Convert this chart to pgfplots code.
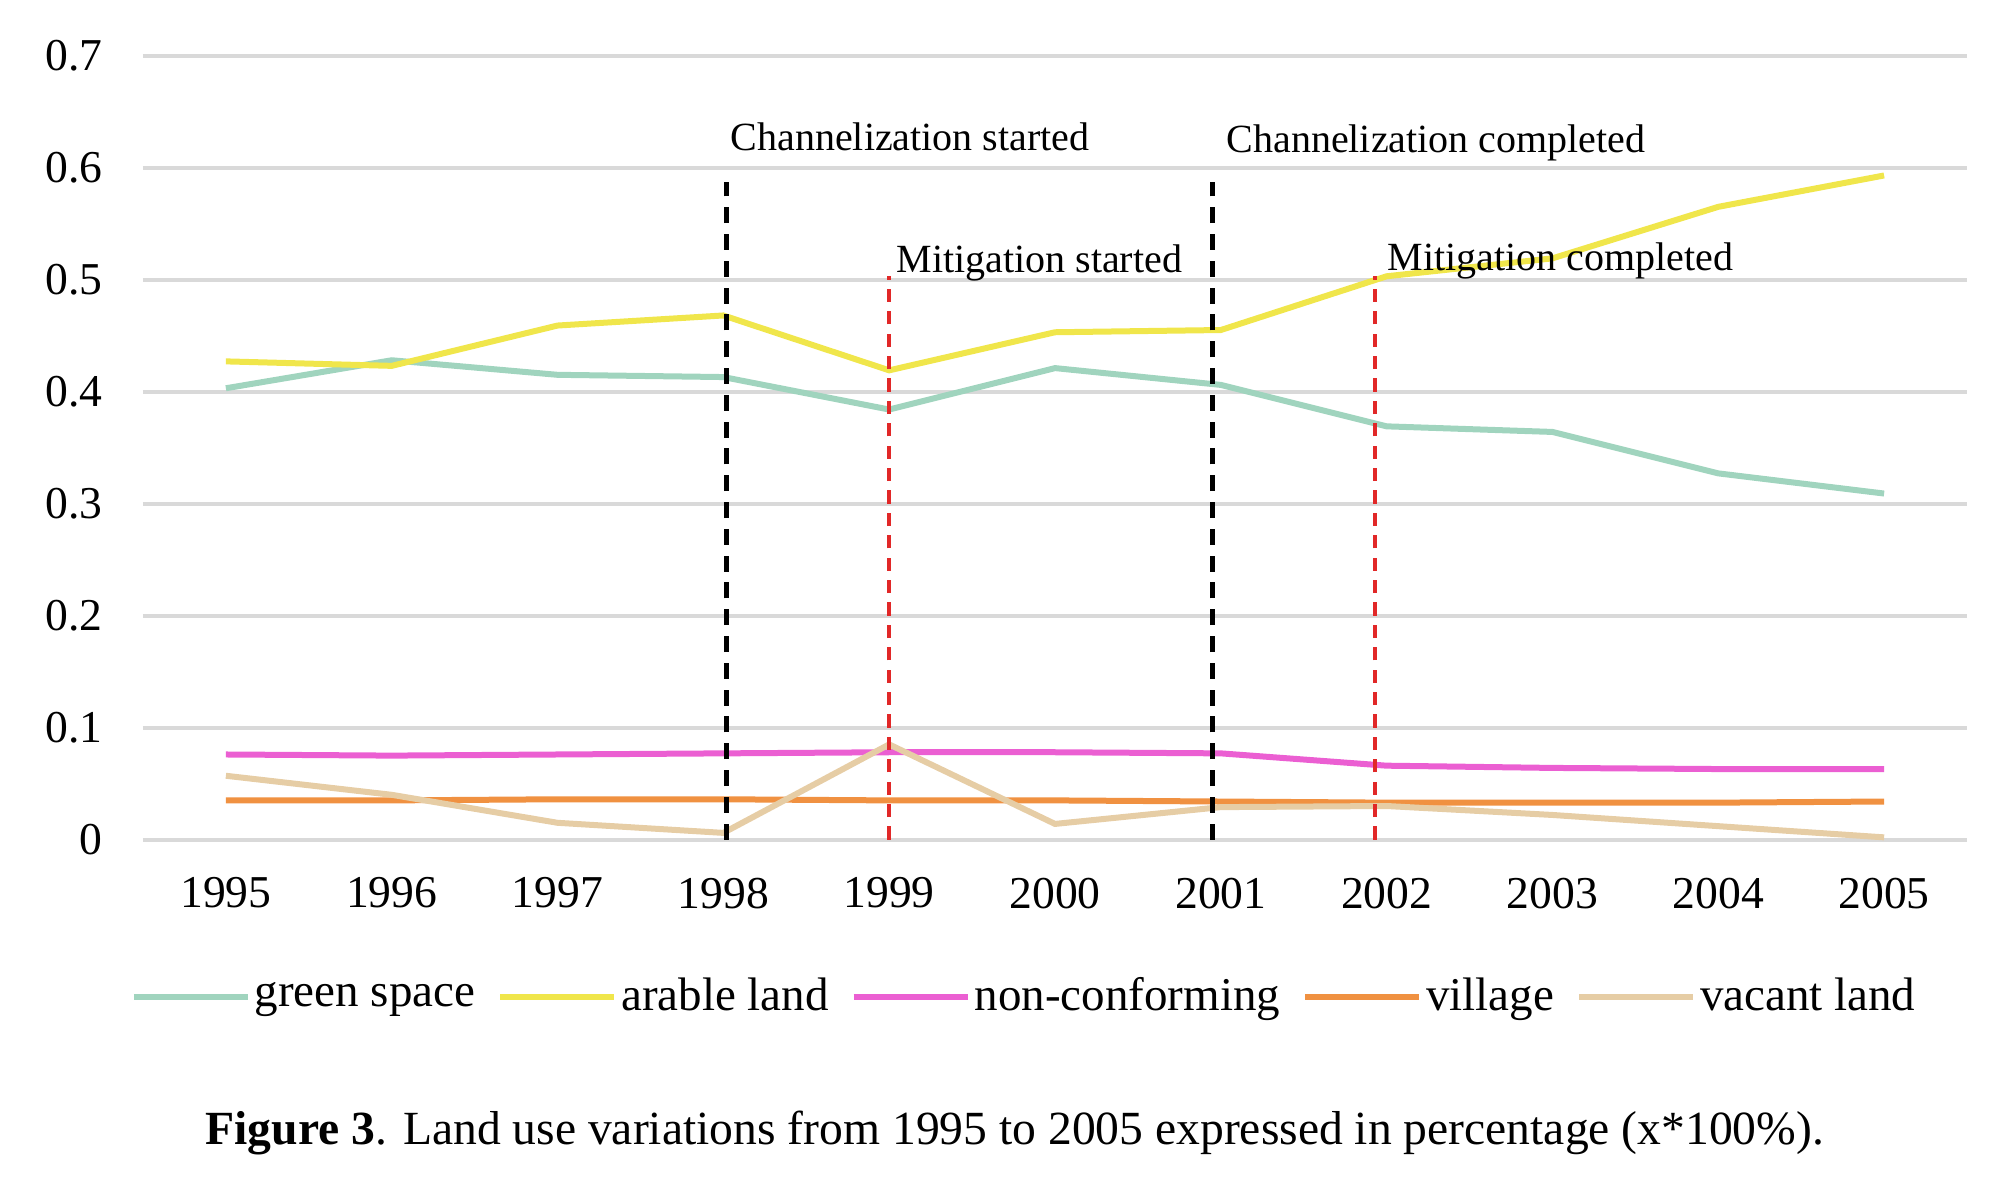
\documentclass[border=0pt]{standalone}
\usepackage{fontspec}
\setmainfont{Liberation Serif}
\usepackage{pgfplots}
\pgfplotsset{compat=1.18}

\definecolor{greensp}{RGB}{160,212,190}
\definecolor{arable}{RGB}{240,230,75}
\definecolor{noncon}{RGB}{235,95,210}
\definecolor{village}{RGB}{240,145,65}
\definecolor{vacant}{RGB}{230,205,165}
\definecolor{gridgray}{RGB}{217,217,217}
\definecolor{mitred}{RGB}{225,40,40}

\begin{document}
\begin{tikzpicture}
\path[use as bounding box] (-35.75bp,-86.1bp) rectangle (464.75bp,209.9bp);
\begin{axis}[
    scale only axis,
    width=456bp, height=196bp,
    at={(0,0)}, anchor=south west,
    xmin=1994.5, xmax=2005.5,
    ymin=0, ymax=0.7,
    clip=false,
    xtick={1995,1996,1997,1998,1999,2000,2001,2002,2003,2004,2005},
    ytick={0,0.1,0.2,0.3,0.4,0.5,0.6,0.7},
    /pgf/number format/assume math mode=true,
    x tick label style={/pgf/number format/1000 sep={}, yshift=-6.0bp},
    y tick label style={/pgf/number format/fixed, /pgf/number format/precision=1, xshift=-6.6bp},
    tick label style={font=\fontsize{11.4bp}{13bp}\selectfont},
    axis line style={draw=none},
    tick style={draw=none},
    ymajorgrids=true,
    grid style={gridgray, line width=1bp},
    every axis plot/.append style={line width=1.5bp},
    legend columns=5,
    legend style={at={(0.4836,-0.2009)}, anchor=center, draw=none,
        font=\fontsize{11.75bp}{14bp}\selectfont,
        nodes={inner sep=1bp},
        /tikz/every even column/.append style={column sep=4.5bp}},
    legend image code/.code={\draw[#1] (0bp,0bp) -- (28.5bp,0bp);},
]
\addplot[greensp] coordinates {
    (1995,0.403)(1996,0.428)(1997,0.415)(1998,0.413)(1999,0.384)(2000,0.421)
    (2001,0.406)(2002,0.369)(2003,0.364)(2004,0.327)(2005,0.309)
};
\addplot[arable] coordinates {
    (1995,0.427)(1996,0.423)(1997,0.459)(1998,0.468)(1999,0.419)(2000,0.453)
    (2001,0.455)(2002,0.503)(2003,0.519)(2004,0.565)(2005,0.593)
};
\addplot[noncon] coordinates {
    (1995,0.076)(1996,0.075)(1997,0.076)(1998,0.077)(1999,0.078)(2000,0.078)
    (2001,0.077)(2002,0.066)(2003,0.064)(2004,0.063)(2005,0.063)
};
\addplot[village] coordinates {
    (1995,0.035)(1996,0.035)(1997,0.036)(1998,0.036)(1999,0.035)(2000,0.035)
    (2001,0.034)(2002,0.033)(2003,0.033)(2004,0.033)(2005,0.034)
};
\addplot[vacant] coordinates {
    (1995,0.057)(1996,0.040)(1997,0.015)(1998,0.006)(1999,0.085)(2000,0.014)
    (2001,0.029)(2002,0.030)(2003,0.022)(2004,0.012)(2005,0.002)
};
\legend{green space, arable land, non-conforming, village, vacant land}

% event markers
\addplot[black, line width=1.3bp, dash pattern=on 4bp off 2.7bp, forget plot] coordinates {(1998.02,0)(1998.02,0.587)};
\addplot[black, line width=1.3bp, dash pattern=on 4bp off 2.7bp, forget plot] coordinates {(2000.95,0)(2000.95,0.587)};
\addplot[mitred, line width=1.05bp, dash pattern=on 3.3bp off 2.3bp, forget plot] coordinates {(1999.0,0)(1999.0,0.503)};
\addplot[mitred, line width=1.05bp, dash pattern=on 3.3bp off 2.3bp, forget plot] coordinates {(2001.93,0)(2001.93,0.503)};

\node[anchor=base west, inner sep=0, font=\fontsize{10bp}{12bp}\selectfont] at (axis cs:1998.04,0.6156) {Channelization started};
\node[anchor=base west, inner sep=0, font=\fontsize{10bp}{12bp}\selectfont] at (axis cs:2001.03,0.6134) {Channelization completed};
\node[anchor=base west, inner sep=0, font=\fontsize{10bp}{12bp}\selectfont] at (axis cs:1999.04,0.506) {Mitigation started};
\node[anchor=base west, inner sep=0, font=\fontsize{10bp}{12bp}\selectfont] at (axis cs:2002.0,0.5085) {Mitigation completed};

\node[anchor=base, font=\fontsize{11.9bp}{14bp}\selectfont] at (rel axis cs:0.478,-0.3884)
    {\textbf{Figure 3}. Land use variations from 1995 to 2005 expressed in percentage (x*100\%).};
\end{axis}
\end{tikzpicture}
\end{document}
